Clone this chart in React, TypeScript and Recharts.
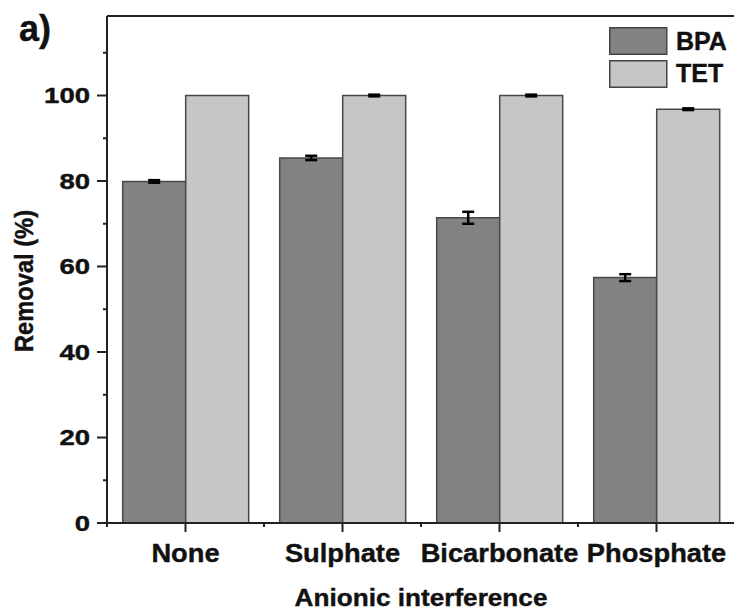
import React from 'react';
import { BarChart, Bar, XAxis, YAxis, ErrorBar, ReferenceLine, Legend } from 'recharts';

const categories = ['None', 'Sulphate', 'Bicarbonate', 'Phosphate'];
const bpaRemoval = [79.9, 85.4, 71.4, 57.4];
const bpaError = [0.3, 0.5, 1.4, 0.8];
const tetRemoval = [100, 100, 100, 96.8];
const tetError = [0, 0.2, 0.2, 0.2];
const yTicks = [0, 10, 20, 30, 40, 50, 60, 70, 80, 90, 100, 110];
const Y_MAX = 118.6;

const data = categories.map((c, i) => ({
  category: c,
  BPA: bpaRemoval[i],
  bpaErr: bpaError[i],
  TET: tetRemoval[i],
  tetErr: tetError[i],
}));

const FONT = '"Liberation Sans", Arial, Helvetica, sans-serif';
const INK = '#111';
const AXIS = '#222';

const W = 734;
const H = 612;
const Y_AXIS_W = 107;
const X_AXIS_H = 89;
const MARGIN = { top: 16, right: -1, bottom: 0, left: 0 };
const HALF_BAND = (W - MARGIN.right - Y_AXIS_W) / categories.length / 2;

function SText(props: any) {
  const { x, y, size, anchor = 'middle', sx = 1, sy = 1, rotate = 0, children } = props;
  return (
    <text
      transform={`translate(${x},${y}) rotate(${rotate}) scale(${sx},${sy})`}
      x={0}
      y={0}
      textAnchor={anchor}
      fontFamily={FONT}
      fontWeight="bold"
      fontSize={size}
      fill={INK}
      stroke={INK}
      strokeWidth={0.4}
    >
      {children}
    </text>
  );
}

const YTick = (props: any) => {
  const { x, y, payload } = props;
  const v = payload.value;
  const major = v % 20 === 0;
  return (
    <g>
      <line x1={x - (major ? 10 : 4)} x2={x} y1={y} y2={y} stroke={AXIS} strokeWidth={2} />
      {major && v <= 100 ? (
        <SText x={x - 17} y={y + 7.8} size={21.5} sx={1.28} anchor="end">
          {v}
        </SText>
      ) : null}
    </g>
  );
};

const XTick = (props: any) => {
  const { x, y, payload } = props;
  return (
    <g>
      <line x1={x} x2={x} y1={y} y2={y + 9} stroke={AXIS} strokeWidth={2} />
      <line x1={x - HALF_BAND} x2={x - HALF_BAND} y1={y} y2={y + 4} stroke={AXIS} strokeWidth={2} />
      <SText x={x} y={y + 39} size={26} sx={1.05}>
        {payload.value}
      </SText>
    </g>
  );
};

const renderLegend = (props: any) => {
  const payload = props.payload || [];
  return (
    <svg width={125} height={66} style={{ display: 'block' }}>
      {payload.map((p: any, i: number) => (
        <g key={p.value}>
          <rect x={0.75} y={0.75 + i * 33} width={57} height={26.5} fill={p.color} stroke="#444" strokeWidth={1.5} />
          <text
            x={67}
            y={23 + i * 32}
            fontFamily={FONT}
            fontWeight="bold"
            fontSize={25}
            fill={INK}
            stroke={INK}
            strokeWidth={0.4}
          >
            {p.value}
          </text>
        </g>
      ))}
    </svg>
  );
};

export default function App() {
  return (
    <div style={{ position: 'absolute', left: 0, top: 0, width: W, height: H, overflow: 'hidden', background: '#fff' }}>
      <BarChart width={W} height={H} data={data} margin={MARGIN} barCategoryGap="10%" barGap={0}>
        <XAxis
          dataKey="category"
          height={X_AXIS_H}
          tickSize={0}
          tickMargin={0}
          tickLine={false}
          axisLine={{ stroke: AXIS, strokeWidth: 2 }}
          tick={<XTick />}
          interval={0}
          label={{
            content: () => (
              <SText x={421} y={606} size={24} sx={1.09}>
                Anionic interference
              </SText>
            ),
          }}
        />
        <YAxis
          type="number"
          domain={[0, Y_MAX]}
          ticks={yTicks}
          width={Y_AXIS_W}
          tickSize={0}
          tickMargin={0}
          tickLine={false}
          axisLine={{ stroke: AXIS, strokeWidth: 2 }}
          tick={<YTick />}
          interval={0}
          allowDataOverflow
          label={{
            content: () => (
              <SText x={33} y={281} size={23} rotate={-90} sx={1.03} sy={1.1}>
                Removal (%)
              </SText>
            ),
          }}
        />
        <ReferenceLine y={Y_MAX} stroke={AXIS} strokeWidth={2} ifOverflow="visible" />
        <Legend
          layout="horizontal"
          verticalAlign="middle"
          align="center"
          content={renderLegend}
          wrapperStyle={{ position: 'absolute', left: 609, top: 27, width: 125, height: 66 }}
        />
        <Bar dataKey="BPA" name="BPA" fill="#828282" stroke="#484848" strokeWidth={1.5} isAnimationActive={false}>
          <ErrorBar dataKey="bpaErr" width={6} stroke="#000" strokeWidth={2.5} direction="y" />
        </Bar>
        <Bar dataKey="TET" name="TET" fill="#c6c6c6" stroke="#484848" strokeWidth={1.5} isAnimationActive={false}>
          <ErrorBar dataKey="tetErr" width={6} stroke="#000" strokeWidth={2.5} direction="y" />
        </Bar>
      </BarChart>
      <svg
        width={W}
        height={H}
        style={{ position: 'absolute', left: 0, top: 0, pointerEvents: 'none' }}
      >
        <SText x={19} y={41} size={36} anchor="start">
          a)
        </SText>
      </svg>
    </div>
  );
}
